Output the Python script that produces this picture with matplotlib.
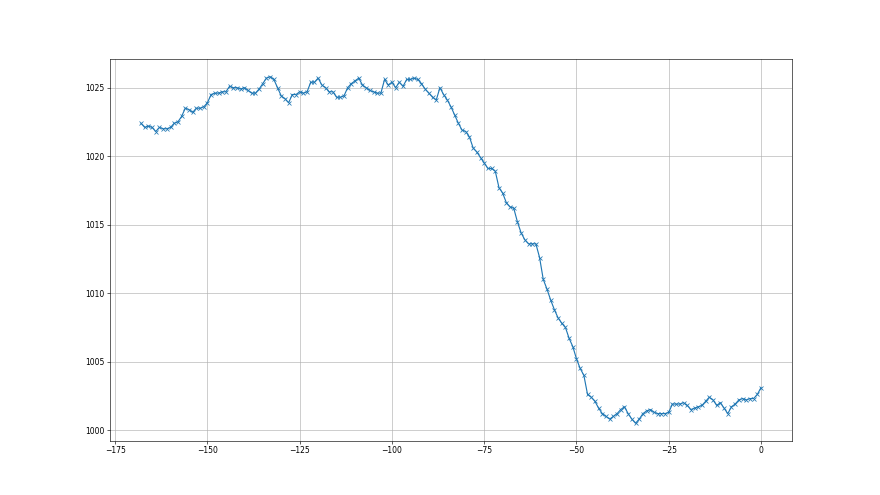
import numpy as np
import matplotlib
matplotlib.use("Agg")
import matplotlib.pyplot as plt

# hours relative to now
hours = np.arange(-168, 1)

# pressure readings (hPa)
pressure = [
    1022.4, 1022.1, 1022.2, 1022.1, 1021.8, 1022.1, 1022.0, 1022.0, 1022.1, 1022.4,
    1022.5, 1022.9, 1023.5, 1023.4, 1023.2, 1023.5, 1023.5, 1023.6, 1023.9, 1024.5,
    1024.6, 1024.6, 1024.7, 1024.7, 1025.1, 1025.0, 1025.0, 1024.9, 1025.0, 1024.8,
    1024.6, 1024.6, 1024.9, 1025.3, 1025.7, 1025.8, 1025.6, 1025.0, 1024.4, 1024.2,
    1023.9, 1024.5, 1024.5, 1024.7, 1024.6, 1024.7, 1025.4, 1025.4, 1025.7, 1025.2,
    1025.0, 1024.7, 1024.7, 1024.3, 1024.3, 1024.4, 1025.0, 1025.3, 1025.5, 1025.7,
    1025.2, 1025.0, 1024.8, 1024.7, 1024.6, 1024.6, 1025.6, 1025.2, 1025.4, 1025.0,
    1025.4, 1025.1, 1025.6, 1025.6, 1025.7, 1025.6, 1025.3, 1024.9, 1024.6, 1024.3,
    1024.1, 1025.0, 1024.5, 1024.1, 1023.6, 1023.0, 1022.4, 1021.9, 1021.8, 1021.4,
    1020.6, 1020.3, 1019.9, 1019.5, 1019.1, 1019.1, 1018.9, 1017.7, 1017.3, 1016.6,
    1016.3, 1016.2, 1015.2, 1014.4, 1013.9, 1013.6, 1013.6, 1013.6, 1012.6, 1011.0,
    1010.3, 1009.5, 1008.8, 1008.2, 1007.8, 1007.5, 1006.7, 1006.1, 1005.2, 1004.5,
    1004.0, 1002.6, 1002.4, 1002.1, 1001.6, 1001.2, 1001.0, 1000.8, 1001.0, 1001.2,
    1001.5, 1001.7, 1001.2, 1000.8, 1000.5, 1000.8, 1001.2, 1001.4, 1001.5, 1001.3,
    1001.2, 1001.2, 1001.2, 1001.3, 1001.9, 1001.9, 1001.9, 1002.0, 1001.8, 1001.5,
    1001.6, 1001.7, 1001.8, 1002.1, 1002.4, 1002.2, 1001.8, 1002.0, 1001.6, 1001.2,
    1001.7, 1001.9, 1002.2, 1002.3, 1002.2, 1002.3, 1002.3, 1002.6, 1003.1,
]

fig = plt.figure(figsize=(16, 9), dpi=55)
ax = fig.add_subplot(1, 1, 1)

ax.plot(hours[:len(pressure)], pressure, marker='x')
ax.grid(True)

fig.savefig("out.png", dpi=55)
